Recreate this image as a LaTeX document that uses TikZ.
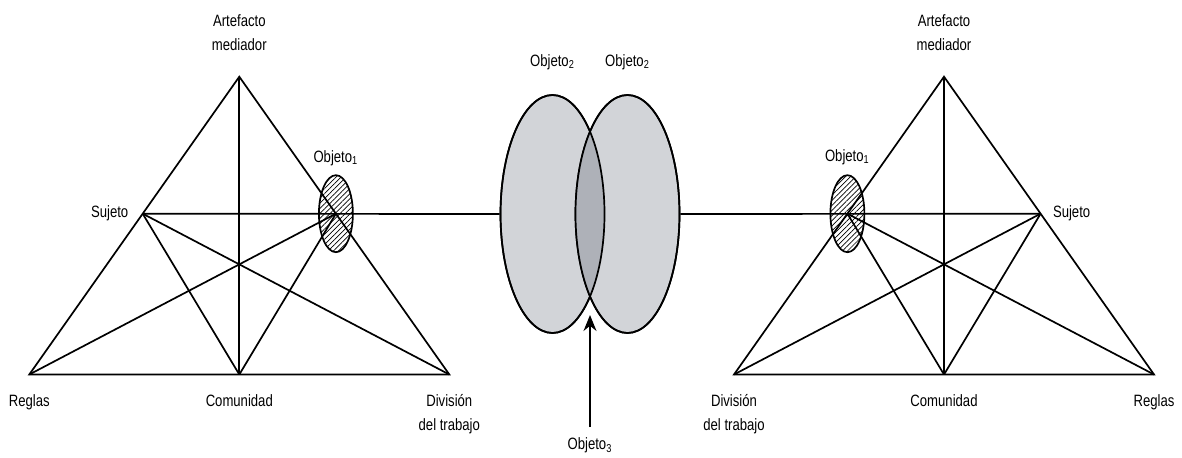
\documentclass[tikz,border=0pt]{standalone}
\usepackage{fontspec}
\newfontfamily\labelfont[FakeStretch=0.8]{Liberation Sans}
\usetikzlibrary{arrows.meta,positioning,calc,shapes.geometric,patterns.meta}

\definecolor{objgray}{RGB}{210,212,216}
\definecolor{lensgray}{RGB}{174,177,184}

\begin{document}
\begin{tikzpicture}[x=0.5pt, y=0.5pt, >={Stealth[length=8pt, width=6.5pt]},
  font=\labelfont\fontsize{8.2pt}{11.7pt}\selectfont,
  edge/.style={line width=0.85pt},
  lbl/.style={inner sep=0pt, align=center},
  smallobj/.style={draw, ellipse, line width=0.85pt, inner sep=0pt,
    minimum width=17pt, minimum height=38.5pt,
    pattern={Lines[angle=45, distance=1.8pt, line width=0.35pt]}},
  bigobj/.style={draw, ellipse, line width=0.85pt, inner sep=0pt,
    minimum width=52pt, minimum height=119pt, fill=objgray}]
  \useasboundingbox (0,0) rectangle (1182,457);

  % left triangle corners
  \coordinate (LR) at (29.3,82.5);
  \coordinate (LC) at (239.3,82.5);
  \coordinate (LD) at (449.3,82.5);
  \coordinate (LA) at (239.3,380.3);
  \coordinate (LS) at ($(LR)!0.54!(LA)$);
  \coordinate (LO) at ($(LD)!0.54!(LA)$);

  % right triangle corners
  \coordinate (RD) at (734,82.5);
  \coordinate (RC) at (944,82.5);
  \coordinate (RR) at (1154,82.5);
  \coordinate (RA) at (944,380.3);
  \coordinate (RS) at ($(RR)!0.54!(RA)$);
  \coordinate (RO) at ($(RD)!0.54!(RA)$);

  % shared objects (objeto 2)
  \node[bigobj] (obj2l) at (552.5,243) {};
  \node[bigobj] (obj2r) at (627.5,243) {};
  \begin{scope}
    \clip (obj2l.center) ellipse [x radius=26pt, y radius=59.5pt];
    \fill[lensgray] (obj2r.center) ellipse [x radius=26pt, y radius=59.5pt];
  \end{scope}
  \draw[edge] (obj2l.center) ellipse [x radius=26pt, y radius=59.5pt];
  \draw[edge] (obj2r.center) ellipse [x radius=26pt, y radius=59.5pt];

  % left triangle lines
  \draw[edge] (LR) -- (LA) -- (LD) -- cycle;
  \draw[edge] (LA) -- (LC);
  \draw[edge] (LS) -- (LC);
  \draw[edge] (LS) -- (LD);
  \draw[edge] (LR) -- (LO);
  \draw[edge] (LC) -- (LO);
  \draw[edge] (LS) -- (obj2l.west);

  % right triangle lines
  \draw[edge] (RD) -- (RA) -- (RR) -- cycle;
  \draw[edge] (RA) -- (RC);
  \draw[edge] (RO) -- (RC);
  \draw[edge] (RO) -- (RR);
  \draw[edge] (RD) -- (RS);
  \draw[edge] (RC) -- (RS);
  \draw[edge] (obj2r.east) -- (RS);

  % objeto 1
  \node[smallobj] (obj1l) at (LO) {};
  \node[smallobj] (obj1r) at (RO) {};

  % labels left
  \node[lbl, above=13pt of LA] (artl) {Artefacto\\mediador};
  \node[lbl, below=10pt of LR] (reglasl) {Reglas};
  \node[lbl, below=10pt of LC] (coml) {Comunidad};
  \node[lbl, below=10pt of LD] (divl) {División\\del trabajo};
  \node[lbl, left=7pt of LS] (sujl) {Sujeto};
  \node[lbl, above=4.5pt of obj1l] (o1l) {Objeto\textsubscript{1}};

  % labels right
  \node[lbl, above=13pt of RA] (artr) {Artefacto\\mediador};
  \node[lbl, below=10pt of RR] (reglasr) {Reglas};
  \node[lbl, below=10pt of RC] (comr) {Comunidad};
  \node[lbl, below=10pt of RD] (divr) {División\\del trabajo};
  \node[lbl, right=6pt of RS] (sujr) {Sujeto};
  \node[lbl, above=4.5pt of obj1r] (o1r) {Objeto\textsubscript{1}};

  % labels middle
  \node[lbl, above=12pt of obj2l] (o2l) {Objeto\textsubscript{2}};
  \node[lbl, above=12pt of obj2r] (o2r) {Objeto\textsubscript{2}};
  \coordinate (o3tip) at (590,142);
  \node[lbl, outer sep=5.5pt, below=56pt of o3tip] (o3) {Objeto\textsubscript{3}};
  \draw[->, line width=0.65pt] (o3) -- (o3tip);
\end{tikzpicture}
\end{document}
